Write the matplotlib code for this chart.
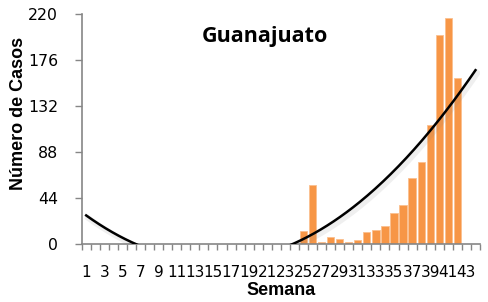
import numpy as np
import matplotlib.pyplot as plt
import matplotlib.patheffects as pe
from matplotlib.ticker import FixedLocator

# weekly cases, Guanajuato (weeks 1-44, 43 and 44 have no data)
semanas = np.arange(1, 45)
casos = [0] * 24 + [12, 56, 2, 6, 5, 2, 4, 11, 13, 17, 29, 37, 63, 78, 114, 200, 216, 159]
etiquetas = [str(s) if s % 2 == 1 else '' for s in semanas]

# 2nd order polynomial trendline over the weeks with data
x_fit = semanas[:len(casos)]
coef = np.polyfit(x_fit, casos, 2)
x_tr = np.linspace(1, 44, 300)
y_tr = np.polyval(coef, x_tr)

fig = plt.figure(figsize=(4.89, 3.02), dpi=100)
ax = fig.add_axes([0.167, 0.193, 0.8146, 0.7596])

ax.bar(x_fit, casos, width=0.8, color='#F79646', edgecolor='#FAC090', linewidth=0.6, zorder=2)
ax.plot(x_tr, y_tr, color='black', lw=1.8, zorder=3,
        path_effects=[pe.SimpleLineShadow(offset=(1.5, -2), shadow_color='gray', alpha=0.12, linewidth=4),
                      pe.Normal()])

ax.set_xlim(0.5, 44.5)
ax.set_ylim(0, 220)

ax.set_yticks([0, 44, 88, 132, 176, 220])
ax.set_xticks(semanas)
ax.set_xticklabels(etiquetas, fontsize=11, family='DejaVu Sans')
ax.xaxis.set_minor_locator(FixedLocator(np.arange(0.5, 45, 1)))
ax.tick_params(axis='x', which='major', length=0, pad=15)
ax.tick_params(axis='x', which='minor', length=4, color='#868686', width=1)
ax.tick_params(axis='y', length=5, color='#868686', width=1, pad=12, labelsize=11.3)
for lbl in ax.get_yticklabels():
    lbl.set_family('DejaVu Sans')

for s in ['top', 'right']:
    ax.spines[s].set_visible(False)
for s in ['left', 'bottom']:
    ax.spines[s].set_color('#868686')
    ax.spines[s].set_linewidth(1.2)

ax.set_xlabel('Semana', fontsize=13, fontweight='bold', family='Liberation Sans', labelpad=2)
ax.set_ylabel('Número de Casos', fontsize=13, fontweight='bold', family='Liberation Sans')
ax.yaxis.set_label_coords(-0.137, 0.57)
ax.text(0.46, 0.905, 'Guanajuato', transform=ax.transAxes, ha='center', va='center',
        fontsize=15.5, fontweight='bold', family='Open Sans')

fig.savefig('out.png', dpi=100)
